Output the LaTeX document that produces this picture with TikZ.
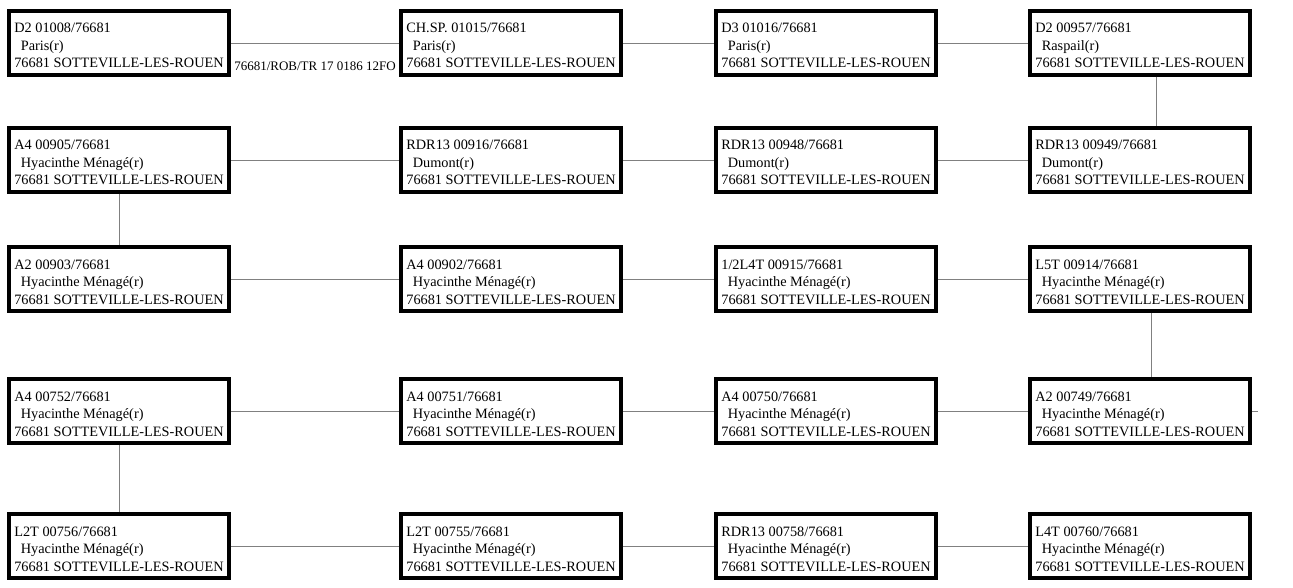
\documentclass[tikz,border=0pt]{standalone}
\usepackage{fontspec}
\setmainfont{Liberation Serif}
\usepackage{tikz}
\usetikzlibrary{shadows}

\newcommand{\arret}[2]{#1\\\hspace*{6.5pt}#2\\76681 SOTTEVILLE-LES-ROUEN}
\tikzset{
    stop/.style={draw=black, fill=white, line width=3.5pt, minimum width=220pt, minimum height=64pt,
        align=left, inner sep=0pt, text height=50pt, text depth=0pt, font=\fontsize{14.3}{17.5}\selectfont,
        drop shadow={shadow xshift=1.2pt, shadow yshift=-1.2pt, fill=black, opacity=1}},
    link/.style={draw=gray, line width=0.9pt}
}

\begin{document}
\begin{tikzpicture}[x=1pt, y=-1pt]
    \useasboundingbox (0,0) rectangle (1293,588);

    \node[stop] (d2par) at (119, 43) {\arret{D2 01008/76681}{Paris(r)}};
    \node[stop] (chsp) at (511, 43) {\arret{CH.SP. 01015/76681}{Paris(r)}};
    \node[stop] (d3par) at (826, 43) {\arret{D3 01016/76681}{Paris(r)}};
    \node[stop] (d2ras) at (1140, 43) {\arret{D2 00957/76681}{Raspail(r)}};

    \node[stop] (a4905) at (119, 160) {\arret{A4 00905/76681}{Hyacinthe Ménagé(r)}};
    \node[stop] (rdr916) at (511, 160) {\arret{RDR13 00916/76681}{Dumont(r)}};
    \node[stop] (rdr948) at (826, 160) {\arret{RDR13 00948/76681}{Dumont(r)}};
    \node[stop] (rdr949) at (1140, 160) {\arret{RDR13 00949/76681}{Dumont(r)}};

    \node[stop] (a2903) at (119, 279) {\arret{A2 00903/76681}{Hyacinthe Ménagé(r)}};
    \node[stop] (a4902) at (511, 279) {\arret{A4 00902/76681}{Hyacinthe Ménagé(r)}};
    \node[stop] (l4t915) at (826, 279) {\arret{1/2L4T 00915/76681}{Hyacinthe Ménagé(r)}};
    \node[stop] (l5t914) at (1140, 279) {\arret{L5T 00914/76681}{Hyacinthe Ménagé(r)}};

    \node[stop] (a4752) at (119, 411) {\arret{A4 00752/76681}{Hyacinthe Ménagé(r)}};
    \node[stop] (a4751) at (511, 411) {\arret{A4 00751/76681}{Hyacinthe Ménagé(r)}};
    \node[stop] (a4750) at (826, 411) {\arret{A4 00750/76681}{Hyacinthe Ménagé(r)}};
    \node[stop] (a2749) at (1140, 411) {\arret{A2 00749/76681}{Hyacinthe Ménagé(r)}};

    \node[stop] (l2t756) at (119, 546) {\arret{L2T 00756/76681}{Hyacinthe Ménagé(r)}};
    \node[stop] (l2t755) at (511, 546) {\arret{L2T 00755/76681}{Hyacinthe Ménagé(r)}};
    \node[stop] (rdr758) at (826, 546) {\arret{RDR13 00758/76681}{Hyacinthe Ménagé(r)}};
    \node[stop] (l4t760) at (1140, 546) {\arret{L4T 00760/76681}{Hyacinthe Ménagé(r)}};

    \draw[link] (d2par) -- node[below=16pt, inner sep=2pt, font=\fontsize{13}{15}\selectfont]{76681/ROB/TR 17 0186 12FO} (chsp);
    \draw[link] (chsp) -- (d3par);
    \draw[link] (d3par) -- (d2ras);
    \draw[link] ([xshift=16.5pt]d2ras.south) -- ([xshift=16.5pt]rdr949.north);
    \draw[link] (a4905) -- (rdr916);
    \draw[link] (rdr916) -- (rdr948);
    \draw[link] (rdr948) -- (rdr949);
    \draw[link] (a4905) -- (a2903);
    \draw[link] (a2903) -- (a4902);
    \draw[link] (a4902) -- (l4t915);
    \draw[link] (l4t915) -- (l5t914);
    \draw[link] ([xshift=11.5pt]l5t914.south) -- ([xshift=11.5pt]a2749.north);
    \draw[link] (a4752) -- (a4751);
    \draw[link] (a4751) -- (a4750);
    \draw[link] (a4750) -- (a2749);
    \coordinate (stub) at ([xshift=6pt]a2749.east);
    \draw[link] (a2749) -- (stub);
    \draw[link] (a4752) -- (l2t756);
    \draw[link] (l2t756) -- (l2t755);
    \draw[link] (l2t755) -- (rdr758);
    \draw[link] (rdr758) -- (l4t760);
\end{tikzpicture}
\end{document}
